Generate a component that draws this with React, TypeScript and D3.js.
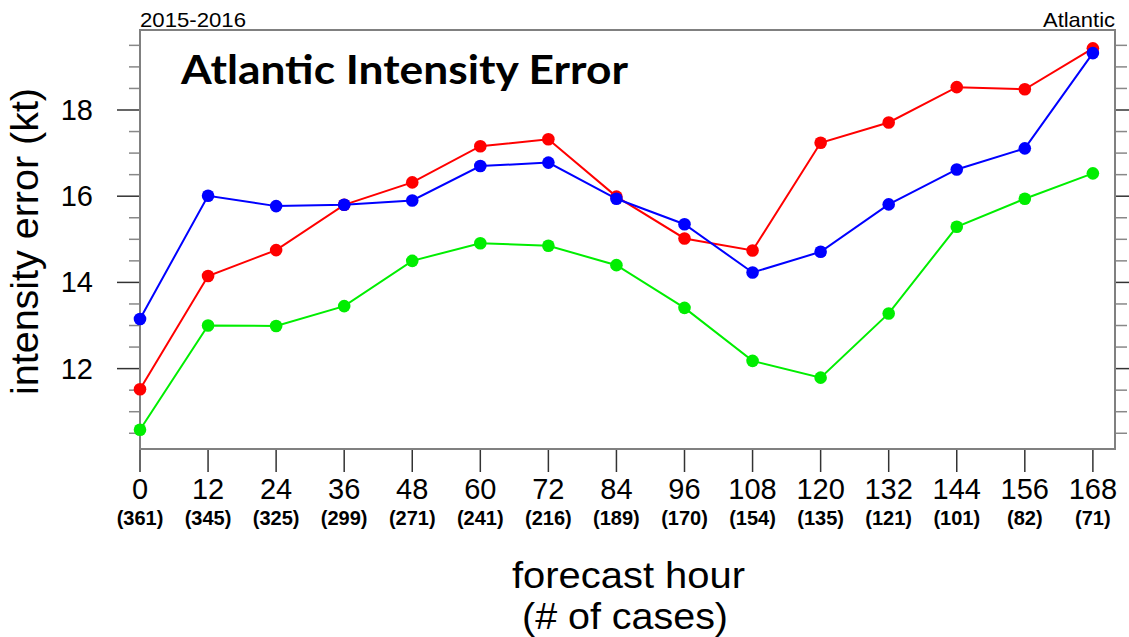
import React, { useEffect, useRef } from 'react';
import * as d3 from 'd3';

const hours = [0, 12, 24, 36, 48, 60, 72, 84, 96, 108, 120, 132, 144, 156, 168];
const cases = [361, 345, 325, 299, 271, 241, 216, 189, 170, 154, 135, 121, 101, 82, 71];

const redErr = [11.52, 14.15, 14.75, 15.8, 16.32, 17.16, 17.32, 15.99, 15.02, 14.74, 17.24, 17.71, 18.53, 18.48, 19.43];
const blueErr = [13.15, 16.01, 15.77, 15.8, 15.9, 16.7, 16.78, 15.94, 15.35, 14.23, 14.71, 15.81, 16.62, 17.11, 19.32];
const greenErr = [10.58, 13.0, 12.99, 13.45, 14.5, 14.91, 14.85, 14.4, 13.41, 12.18, 11.79, 13.28, 15.29, 15.94, 16.53];

const yTicks = [12, 14, 16, 18];

function App() {
    const chartRef = useRef<SVGSVGElement>(null);

    useEffect(() => {
        document.body.style.margin = '0';
        drawChart();
    }, []);

    const drawChart = () => {
        const svg = d3.select(chartRef.current)
            .attr('width', 1129)
            .attr('height', 637);
        svg.selectAll('*').remove();

        const left = 140, right = 1115, top = 30, bottom = 449;
        const font = '"Liberation Sans", Arial, sans-serif';

        const x = d3.scaleLinear().domain([0, 171.9]).range([left, right]);
        const y = d3.scaleLinear().domain([10.135, 19.856]).range([bottom, top]);

        const minor = d3.range(10.5, 19.51, 0.5).filter(v => !yTicks.includes(v));

        // left axis ticks
        svg.append('g').selectAll('line.minor')
            .data(minor).enter().append('line')
            .attr('x1', left - 11).attr('x2', left)
            .attr('y1', d => y(d)).attr('y2', d => y(d))
            .attr('stroke', '#888').attr('stroke-width', 1.5);
        svg.append('g').selectAll('line.major')
            .data(yTicks).enter().append('line')
            .attr('x1', left - 23).attr('x2', left)
            .attr('y1', d => y(d)).attr('y2', d => y(d))
            .attr('stroke', '#333').attr('stroke-width', 1.5);

        // right axis ticks
        svg.append('g').selectAll('line.minor')
            .data(minor).enter().append('line')
            .attr('x1', right).attr('x2', right + 12)
            .attr('y1', d => y(d)).attr('y2', d => y(d))
            .attr('stroke', '#888').attr('stroke-width', 1.5);
        svg.append('g').selectAll('line.major')
            .data(yTicks).enter().append('line')
            .attr('x1', right).attr('x2', right + 23)
            .attr('y1', d => y(d)).attr('y2', d => y(d))
            .attr('stroke', '#333').attr('stroke-width', 1.5);

        // bottom ticks
        svg.append('g').selectAll('line')
            .data(hours).enter().append('line')
            .attr('x1', d => x(d)).attr('x2', d => x(d))
            .attr('y1', bottom).attr('y2', bottom + 23)
            .attr('stroke', '#333').attr('stroke-width', 1.5);

        // frame
        svg.append('rect')
            .attr('x', left).attr('y', top)
            .attr('width', right - left).attr('height', bottom - top)
            .attr('fill', 'none').attr('stroke', '#808080').attr('stroke-width', 2);

        // y tick labels
        svg.append('g').selectAll('text')
            .data(yTicks).enter().append('text')
            .attr('x', 93).attr('y', d => y(d) + 10)
            .attr('text-anchor', 'end')
            .attr('font-family', font).attr('font-size', 29)
            .text(d => d);

        // x tick labels
        svg.append('g').selectAll('text')
            .data(hours).enter().append('text')
            .attr('x', d => x(d)).attr('y', 499)
            .attr('text-anchor', 'middle')
            .attr('font-family', font).attr('font-size', 29)
            .text(d => d);

        svg.append('g').selectAll('text')
            .data(cases).enter().append('text')
            .attr('x', (d, i) => x(hours[i])).attr('y', 525)
            .attr('text-anchor', 'middle')
            .attr('font-family', font).attr('font-size', 20).attr('font-weight', 'bold')
            .text(d => `(${d})`);

        // series
        const series = [
            { values: greenErr, color: '#00ee00' },
            { values: redErr, color: '#ff0000' },
            { values: blueErr, color: '#0000ff' },
        ];
        const line = d3.line<number>()
            .x((d, i) => x(hours[i]))
            .y(d => y(d));

        series.forEach(s => {
            svg.append('path')
                .datum(s.values)
                .attr('d', line)
                .attr('fill', 'none')
                .attr('stroke', s.color)
                .attr('stroke-width', 2);
            svg.append('g').selectAll('circle')
                .data(s.values).enter().append('circle')
                .attr('cx', (d, i) => x(hours[i]))
                .attr('cy', d => y(d))
                .attr('r', 6.3)
                .attr('fill', s.color);
        });

        // texts
        svg.append('text')
            .attr('x', left).attr('y', 27)
            .attr('font-family', font).attr('font-size', 21)
            .attr('textLength', 106).attr('lengthAdjust', 'spacingAndGlyphs')
            .text('2015-2016');
        svg.append('text')
            .attr('x', right - 72).attr('y', 27)
            .attr('font-family', font).attr('font-size', 21)
            .attr('textLength', 72).attr('lengthAdjust', 'spacingAndGlyphs')
            .text('Atlantic');

        svg.append('text')
            .attr('x', 181).attr('y', 84)
            .attr('font-family', 'Lato, "Open Sans", sans-serif')
            .attr('font-size', 41).attr('font-weight', 'bold')
            .attr('textLength', 447).attr('lengthAdjust', 'spacingAndGlyphs')
            .text('Atlantic Intensity Error');

        svg.append('text')
            .attr('transform', `translate(38, 395) rotate(-90)`)
            .attr('font-family', font).attr('font-size', 38)
            .attr('textLength', 307).attr('lengthAdjust', 'spacingAndGlyphs')
            .text('intensity error (kt)');

        svg.append('text')
            .attr('x', 512).attr('y', 588)
            .attr('font-family', font).attr('font-size', 36)
            .attr('textLength', 233).attr('lengthAdjust', 'spacingAndGlyphs')
            .text('forecast hour');
        svg.append('text')
            .attr('x', 522).attr('y', 629)
            .attr('font-family', font).attr('font-size', 36)
            .attr('textLength', 206).attr('lengthAdjust', 'spacingAndGlyphs')
            .text('(# of cases)');
    };

    return (
        <div>
            <svg ref={chartRef} style={{ display: 'block' }}></svg>
        </div>
    );
}

export default App;
